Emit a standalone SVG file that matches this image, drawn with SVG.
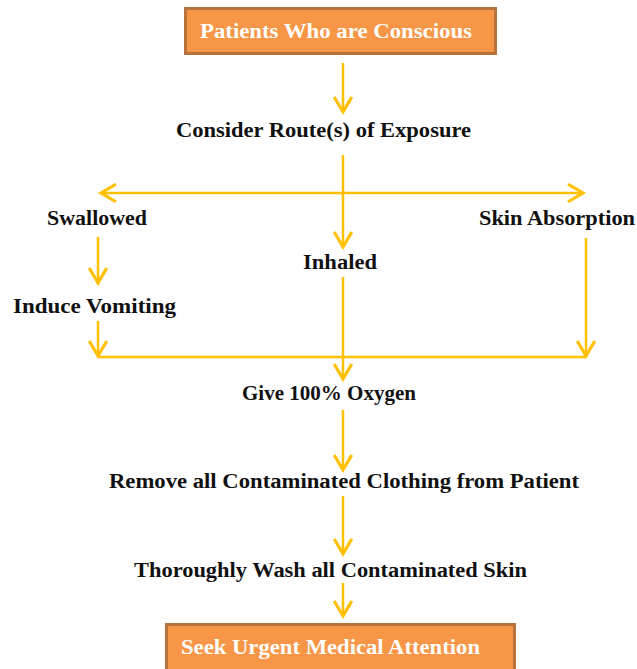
<svg xmlns="http://www.w3.org/2000/svg" width="637" height="669" viewBox="0 0 637 669">
<style>
.box{fill:#F79646;stroke:#B8723A;stroke-width:3}
.t{font-family:"Liberation Serif","DejaVu Serif",serif;font-weight:bold;font-size:20px;fill:#111}
.w{fill:#fff}
.c{fill:none;stroke:#FFC000;stroke-width:2.5}
</style>
<defs>
<marker id="ah" markerUnits="userSpaceOnUse" markerWidth="20" markerHeight="20" refX="13" refY="8" orient="auto-start-reverse" viewBox="0 0 16 16">
<path d="M1,1 L13,8 L1,15" fill="none" stroke="#FFC000" stroke-width="2.5"/>
</marker>
</defs>
<rect width="637" height="669" fill="#fff"/>
<g id="connectors">
<path class="c" d="M343,63 V112" marker-end="url(#ah)"/>
<path class="c" d="M343,155 V247" marker-end="url(#ah)"/>
<path class="c" d="M101,193 H583" marker-start="url(#ah)" marker-end="url(#ah)"/>
<path class="c" d="M98,237 V283" marker-end="url(#ah)"/>
<path class="c" d="M98,321 V356" marker-end="url(#ah)"/>
<path class="c" d="M586,238 V356" marker-end="url(#ah)"/>
<path class="c" d="M98,357 H586"/>
<path class="c" d="M343,277 V379" marker-end="url(#ah)"/>
<path class="c" d="M343,410 V470" marker-end="url(#ah)"/>
<path class="c" d="M343,496 V554" marker-end="url(#ah)"/>
<path class="c" d="M343,583 V616" marker-end="url(#ah)"/>
</g>
<g id="start">
<rect class="box" x="185.5" y="8.5" width="310" height="45"/>
<text class="t w" x="200" y="38" textLength="272" lengthAdjust="spacingAndGlyphs">Patients Who are Conscious</text>
</g>
<g id="route"><text class="t" x="176" y="137" textLength="295" lengthAdjust="spacingAndGlyphs">Consider Route(s) of Exposure</text></g>
<g id="swallowed"><text class="t" x="47" y="225" textLength="100" lengthAdjust="spacingAndGlyphs">Swallowed</text></g>
<g id="skin"><text class="t" x="479" y="225" textLength="156" lengthAdjust="spacingAndGlyphs">Skin Absorption</text></g>
<g id="inhaled"><text class="t" x="303" y="269" textLength="74" lengthAdjust="spacingAndGlyphs">Inhaled</text></g>
<g id="vomit"><text class="t" x="13" y="313" textLength="163" lengthAdjust="spacingAndGlyphs">Induce Vomiting</text></g>
<g id="oxygen"><text class="t" x="242" y="400" textLength="174" lengthAdjust="spacingAndGlyphs">Give 100% Oxygen</text></g>
<g id="clothing"><text class="t" x="109" y="488" textLength="470" lengthAdjust="spacingAndGlyphs">Remove all Contaminated Clothing from Patient</text></g>
<g id="wash"><text class="t" x="134" y="577" textLength="393" lengthAdjust="spacingAndGlyphs">Thoroughly Wash all Contaminated Skin</text></g>
<g id="end">
<rect class="box" x="166.5" y="624.5" width="348" height="50"/>
<text class="t w" x="181" y="654" textLength="299" lengthAdjust="spacingAndGlyphs">Seek Urgent Medical Attention</text>
</g>
</svg>
